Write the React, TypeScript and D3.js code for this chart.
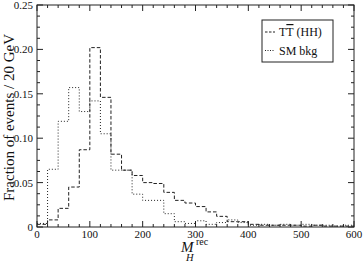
import React from "react";
import * as d3 from "d3";

// bin low edges (GeV), 20 GeV bins
const binEdges = d3.range(0, 600, 20);

// TT(HH) signal, fraction per bin
const signalTT = [
  0.003, 0.008, 0.021, 0.045, 0.087, 0.202, 0.146, 0.082, 0.064, 0.058,
  0.05, 0.049, 0.039, 0.03, 0.027, 0.023, 0.017, 0.012, 0.006, 0.006,
  0.003, 0.002, 0.002, 0.002, 0.002, 0.001, 0.002, 0.001, 0.001, 0.001,
];

// SM background, fraction per bin
const smBkg = [
  0.004, 0.065, 0.119, 0.157, 0.13, 0.142, 0.105, 0.064, 0.064, 0.037,
  0.03, 0.03, 0.015, 0.006, 0.004, 0.007, 0.003, 0.005, 0.008, 0.005,
  0.002, 0.003, 0.002, 0.003, 0.002, 0.003, 0.002, 0.002, 0.001, 0.002,
];

const xTicks = [0, 100, 200, 300, 400, 500, 600];
const yTicks = [0, 0.05, 0.1, 0.15, 0.2, 0.25];
const yTickLabels = ["0", "0.05", "0.10", "0.15", "0.20", "0.25"];

const W = 364;
const H = 262;
const left = 37;
const right = 354;
const top = 5;
const bottom = 227;
const ink = "#222";
const font = "Liberation Serif, Times New Roman, serif";

const App: React.FC = () => {
  const x = d3.scaleLinear().domain([0, 600]).range([left, right]);
  const y = d3.scaleLinear().domain([0, 0.25]).range([bottom, top]);

  const stepPath = (vals: number[]) => {
    const pts: [number, number][] = binEdges.map((e, i) => [e, vals[i]]);
    pts.push([600, vals[vals.length - 1]]);
    return (
      d3
        .line<[number, number]>()
        .x((d) => x(d[0]))
        .y((d) => y(d[1]))
        .curve(d3.curveStepAfter)(pts) || ""
    );
  };

  const xMinor = d3.range(0, 601, 20).filter((v) => v % 100 !== 0);
  const yMinor = d3
    .range(0, 0.2501, 0.0125)
    .filter((v) => Math.abs(v / 0.05 - Math.round(v / 0.05)) > 1e-6);

  const major = 6;
  const minor = 3;

  return (
    <svg
      width={W}
      height={H}
      style={{ position: "fixed", left: 0, top: 0, background: "#fff", fontFamily: font }}
    >
      <rect x={0} y={0} width={W} height={H} fill="#fff" />

      {/* histograms */}
      <path d={stepPath(smBkg)} fill="none" stroke={ink} strokeWidth={1} strokeDasharray="1,2" />
      <path d={stepPath(signalTT)} fill="none" stroke={ink} strokeWidth={1} strokeDasharray="3.5,2" />

      {/* frame */}
      <rect x={left} y={top} width={right - left} height={bottom - top} fill="none" stroke={ink} strokeWidth={1} />

      {/* x ticks (bottom + top, inward) */}
      {xTicks.map((t) => (
        <g key={"xt" + t}>
          <line x1={x(t)} x2={x(t)} y1={bottom} y2={bottom - major} stroke={ink} />
          <line x1={x(t)} x2={x(t)} y1={top} y2={top + major} stroke={ink} />
          <text x={x(t)} y={238} fontSize={11} textAnchor="middle" fill="#111">
            {t}
          </text>
        </g>
      ))}
      {xMinor.map((t) => (
        <g key={"xm" + t}>
          <line x1={x(t)} x2={x(t)} y1={bottom} y2={bottom - minor} stroke={ink} />
          <line x1={x(t)} x2={x(t)} y1={top} y2={top + minor} stroke={ink} />
        </g>
      ))}

      {/* y ticks (left + right, inward) */}
      {yTicks.map((t, i) => (
        <g key={"yt" + t}>
          <line x1={left} x2={left + major} y1={y(t)} y2={y(t)} stroke={ink} />
          <line x1={right} x2={right - major} y1={y(t)} y2={y(t)} stroke={ink} />
          <text x={33} y={y(t) + 4} fontSize={11} textAnchor="end" fill="#111">
            {yTickLabels[i]}
          </text>
        </g>
      ))}
      {yMinor.map((t) => (
        <g key={"ym" + t}>
          <line x1={left} x2={left + minor} y1={y(t)} y2={y(t)} stroke={ink} />
          <line x1={right} x2={right - minor} y1={y(t)} y2={y(t)} stroke={ink} />
        </g>
      ))}

      {/* axis titles */}
      <text
        transform={`translate(13.5,117.5) rotate(-90)`}
        textAnchor="middle"
        fontSize={15}
        fill="#111"
      >
        Fraction of events / 20 GeV
      </text>
      <text x={181} y={252} fontSize={15} fontStyle="italic" fill="#111">
        M
      </text>
      <text x={196} y={244.5} fontSize={10} fill="#111">
        rec
      </text>
      <text x={186} y={261} fontSize={10.5} fontStyle="italic" fill="#111">
        H
      </text>

      {/* legend */}
      <rect x={262} y={20} width={71} height={42} fill="#fff" stroke={ink} strokeWidth={1} />
      <line x1={265} x2={275} y1={32} y2={32} stroke={ink} strokeDasharray="2.5,1.5" />
      <text x={279} y={36} fontSize={12} fill="#111">
        T<tspan style={{ textDecoration: "overline" }}>T</tspan> (HH)
      </text>
      <line x1={265} x2={275} y1={50.5} y2={50.5} stroke={ink} strokeDasharray="1,1.5" />
      <text x={279} y={54.5} fontSize={12} fill="#111">
        SM bkg
      </text>
    </svg>
  );
};

export default App;
